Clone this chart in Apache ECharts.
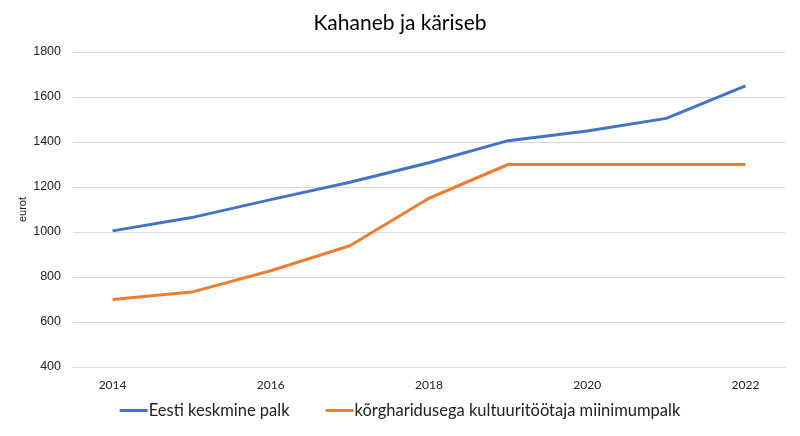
<!DOCTYPE html>
<html><head><meta charset="utf-8">
<script src="https://cdn.jsdelivr.net/npm/echarts@6/dist/echarts.min.js"></script>
<style>html,body{margin:0;padding:0;background:#fff}#c{width:800px;height:436px}</style>
</head><body><div id="c"></div>
<script>
const years = ['2014','2015','2016','2017','2018','2019','2020','2021','2022'];
const keskmine = [1005, 1064, 1144, 1221, 1308, 1406, 1449, 1505, 1649];
const miinimum = [700, 733, 828, 939, 1150, 1300, 1300, 1300, 1300];
const seriesNames = ['Eesti keskmine palk', 'kõrgharidusega kultuuritöötaja miinimumpalk'];
const font = 'Lato, "Open Sans", sans-serif';
const chart = echarts.init(document.getElementById('c'));
chart.setOption({
  animation: false,
  title: { text: 'Kahaneb ja käriseb', left: 'center', top: 8,
    textStyle: { fontFamily: font, fontSize: 21, fontWeight: 'normal', color: '#000' } },
  legend: { bottom: 12, left: 'center', itemGap: 36, itemWidth: 28, itemHeight: 3, icon: 'rect',
    textStyle: { fontFamily: font, fontSize: 16.5, color: '#222', padding: [0,0,0,-4] },
    data: seriesNames },
  grid: { left: 73, right: 15, top: 52, bottom: 69 },
  xAxis: { type: 'category', data: years, boundaryGap: true,
    axisLine: { lineStyle: { color: '#d9d9d9', width: 1 } }, axisTick: { show: false },
    axisLabel: { interval: 1, fontFamily: font, fontSize: 12, color: '#222', margin: 12 } },
  yAxis: { type: 'value', min: 400, max: 1800, interval: 200,
    name: 'eurot', nameLocation: 'middle', nameGap: 45, nameRotate: 90, nameMoveOverlap: false,
    nameTextStyle: { fontFamily: '"Liberation Sans", Arial, sans-serif', fontSize: 11, color: '#222' },
    axisLine: { show: false }, axisTick: { show: false },
    axisLabel: { fontFamily: '"Liberation Sans", Arial, sans-serif', fontSize: 12.5, color: '#222', margin: 12,
      formatter: v => String(v) },
    splitLine: { lineStyle: { color: '#d9d9d9', width: 1 } } },
  series: [
    { name: seriesNames[0], type: 'line', data: keskmine, symbol: 'none',
      lineStyle: { color: '#4472C4', width: 3 }, itemStyle: { color: '#4472C4' } },
    { name: seriesNames[1], type: 'line', data: miinimum, symbol: 'none',
      lineStyle: { color: '#ED7D31', width: 3 }, itemStyle: { color: '#ED7D31' } }
  ]
});
</script></body></html>
